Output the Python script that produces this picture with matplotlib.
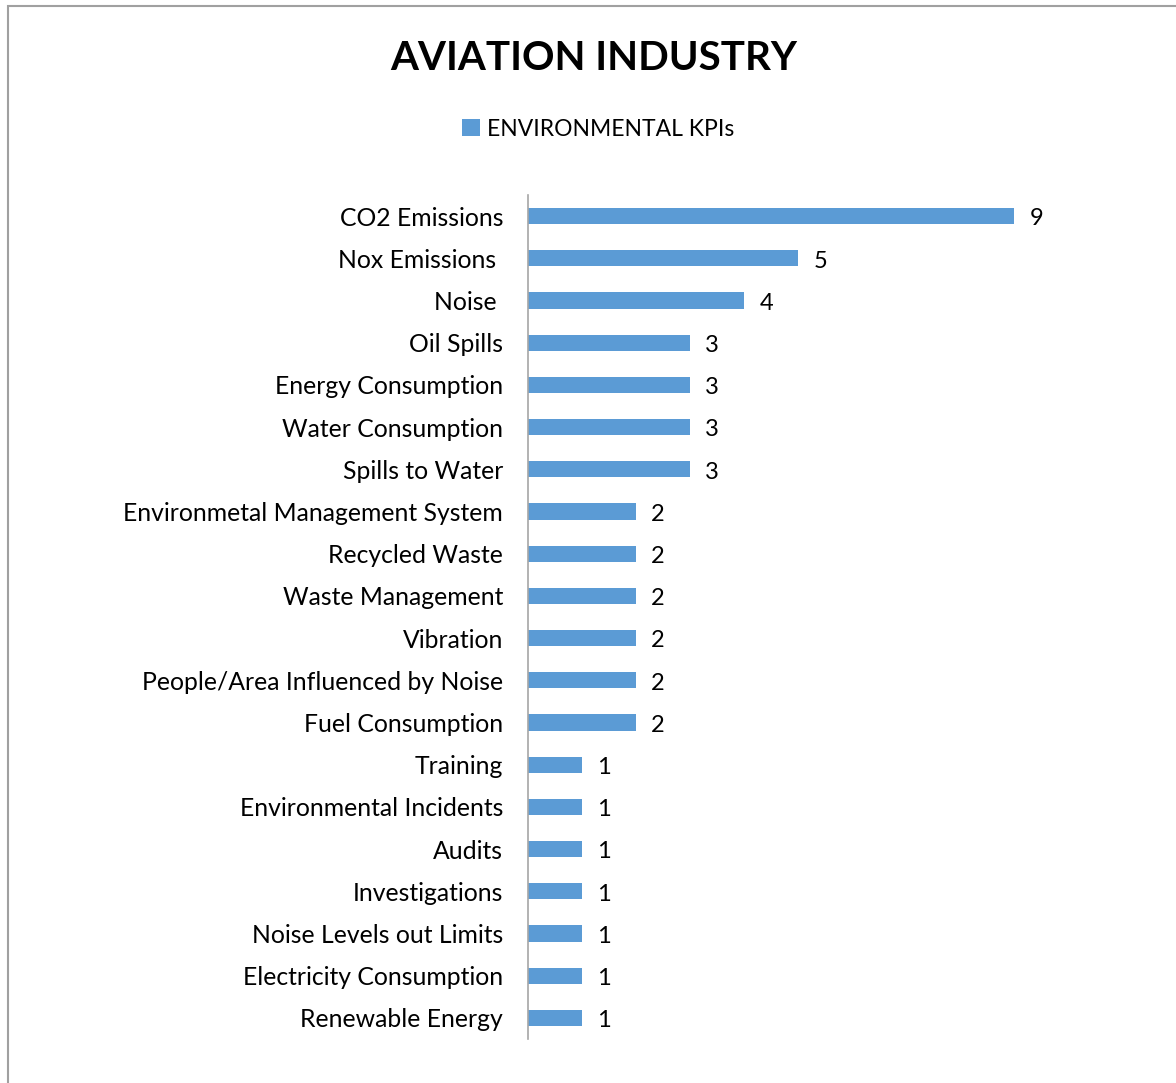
import matplotlib.pyplot as plt
from matplotlib.patches import Rectangle

categories = ['CO2 Emissions', 'Nox Emissions ', 'Noise ', 'Oil Spills',
              'Energy Consumption', 'Water Consumption', 'Spills to Water',
              'Environmetal Management System', 'Recycled Waste',
              'Waste Management', 'Vibration', 'People/Area Influenced by Noise',
              'Fuel Consumption', 'Training', 'Environmental Incidents', 'Audits',
              'Investigations', 'Noise Levels out Limits',
              'Electricity Consumption', 'Renewable Energy']
values = [9, 5, 4, 3, 3, 3, 3, 2, 2, 2, 2, 2, 2, 1, 1, 1, 1, 1, 1, 1]

bar_color = '#5B9BD5'
plt.rcParams['font.family'] = ['Lato', 'DejaVu Sans']

fig = plt.figure(figsize=(11.76, 10.83), dpi=100)
ax = fig.add_axes([528 / 1176, 1 - 1039 / 1083, 540 / 1176, 844 / 1083])

pos = list(range(len(categories)))
ax.barh(pos, values, height=0.38, color=bar_color, label='ENVIRONMENTAL KPIs')
for y, v in zip(pos, values):
    ax.annotate(str(v), (v, y), xytext=(11, -2), textcoords='offset points',
                ha='left', va='center', fontsize=17, color='black')

ax.set_ylim(len(categories) - 0.5, -0.5)
ax.set_xlim(0, 10)
ax.set_yticks(pos)
ax.set_yticklabels(categories, fontsize=17.8)
ax.tick_params(axis='y', length=0, pad=18)
ax.set_xticks([])
for s in ['top', 'right', 'bottom']:
    ax.spines[s].set_visible(False)
ax.spines['left'].set_color('#A6A6A6')
ax.spines['left'].set_linewidth(1.2)

fig.text(594 / 1176, 1 - 59 / 1083, 'AVIATION INDUSTRY', ha='center', va='center',
         fontsize=29, fontweight='bold')
fig.legend(loc='center', bbox_to_anchor=(598 / 1176, 1 - 129 / 1083), frameon=False,
           fontsize=16.5, handlelength=0.8, handleheight=0.8, handletextpad=0.3)

fig.patches.append(Rectangle((8 / 1176, -0.1), 1.2, 1 - 6 / 1083 + 0.1,
                             transform=fig.transFigure, fill=False,
                             edgecolor='#A0A0A0', linewidth=1.5))

fig.savefig('out.png', dpi=100)
